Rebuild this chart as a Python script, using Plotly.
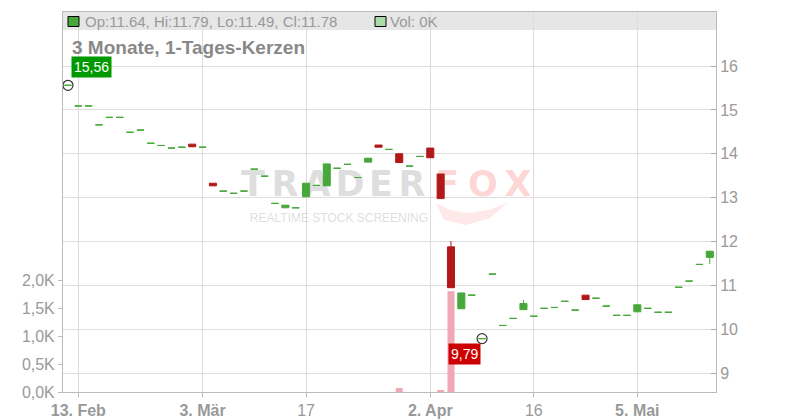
import plotly.graph_objects as go

# ---------------- data ----------------
dates = ["2025-02-12", "2025-02-13", "2025-02-14", "2025-02-17", "2025-02-18", "2025-02-19", "2025-02-20", "2025-02-21",
         "2025-02-24", "2025-02-25", "2025-02-26", "2025-02-27", "2025-02-28",
         "2025-03-03", "2025-03-04", "2025-03-05", "2025-03-06", "2025-03-07",
         "2025-03-10", "2025-03-11", "2025-03-12", "2025-03-13", "2025-03-14",
         "2025-03-17", "2025-03-18", "2025-03-19", "2025-03-20", "2025-03-21",
         "2025-03-24", "2025-03-25", "2025-03-26", "2025-03-27", "2025-03-28",
         "2025-03-31", "2025-04-01", "2025-04-02", "2025-04-03", "2025-04-04",
         "2025-04-07", "2025-04-08", "2025-04-09", "2025-04-10", "2025-04-11",
         "2025-04-14", "2025-04-15", "2025-04-16", "2025-04-17",
         "2025-04-22", "2025-04-23", "2025-04-24", "2025-04-25",
         "2025-04-28", "2025-04-29", "2025-04-30", "2025-05-02",
         "2025-05-05", "2025-05-06", "2025-05-07", "2025-05-08", "2025-05-09",
         "2025-05-12", "2025-05-13", "2025-05-14"]

opens = [15.56, 15.09, 15.09, 14.66, 14.83, 14.83, 14.49, 14.54, 14.24, 14.19,
         14.13, 14.15, 14.22, 14.15, 13.33, 13.15, 13.10, 13.15, 13.65, 13.49,
         12.87, 12.77, 12.77, 13.02, 13.28, 13.27, 13.67, 13.76, 13.46, 13.81,
         14.20, 14.10, 14.00, 13.72, 13.94, 14.13, 13.54, 11.88, 10.47, 10.78,
         9.79, 11.26, 10.09, 10.25, 10.45, 10.30, 10.48, 10.50, 10.64, 10.44,
         10.78, 10.71, 10.53, 10.32, 10.32, 10.40, 10.48, 10.39, 10.39, 10.96,
         11.10, 11.48, 11.64]

highs = [15.56, 15.09, 15.09, 14.66, 14.83, 14.83, 14.49, 14.54, 14.24, 14.19,
         14.13, 14.15, 14.22, 14.15, 13.33, 13.15, 13.10, 13.15, 13.65, 13.49,
         12.87, 12.83, 12.77, 13.33, 13.28, 13.77, 13.67, 13.76, 13.46, 13.90,
         14.20, 14.10, 14.00, 13.72, 13.94, 14.13, 13.54, 12.01, 10.83, 10.78,
         9.79, 11.26, 10.09, 10.25, 10.67, 10.30, 10.48, 10.50, 10.64, 10.44,
         10.78, 10.71, 10.53, 10.32, 10.32, 10.56, 10.48, 10.39, 10.39, 10.96,
         11.10, 11.48, 11.79]

lows = [15.56, 15.09, 15.09, 14.66, 14.83, 14.83, 14.49, 14.54, 14.24, 14.19,
        14.13, 14.15, 14.16, 14.15, 13.27, 13.15, 13.10, 13.15, 13.65, 13.49,
        12.87, 12.77, 12.77, 13.02, 13.28, 13.27, 13.67, 13.76, 13.46, 13.81,
        14.15, 14.10, 13.80, 13.72, 13.94, 13.91, 12.98, 10.95, 10.47, 10.78,
        9.79, 11.26, 10.09, 10.25, 10.45, 10.30, 10.48, 10.50, 10.64, 10.44,
        10.68, 10.71, 10.53, 10.32, 10.32, 10.40, 10.48, 10.39, 10.39, 10.96,
        11.10, 11.48, 11.49]

closes = [15.56, 15.09, 15.09, 14.66, 14.83, 14.83, 14.49, 14.54, 14.24, 14.19,
          14.13, 14.15, 14.16, 14.15, 13.27, 13.15, 13.10, 13.15, 13.65, 13.49,
          12.87, 12.83, 12.77, 13.33, 13.28, 13.77, 13.67, 13.76, 13.46, 13.90,
          14.15, 14.10, 13.80, 13.72, 13.94, 13.91, 12.98, 10.95, 10.83, 10.78,
          9.79, 11.26, 10.09, 10.25, 10.59, 10.30, 10.48, 10.50, 10.64, 10.44,
          10.68, 10.71, 10.53, 10.32, 10.32, 10.56, 10.48, 10.39, 10.39, 10.96,
          11.10, 11.48, 11.78]

volumes = [0, 0, 0, 0, 0, 0, 0, 0, 0, 0,
           0, 0, 0, 0, 0, 0, 0, 0, 0, 0,
           0, 0, 0, 0, 0, 0, 0, 0, 0, 0,
           0, 0, 70, 0, 0, 0, 20, 1800, 0, 0,
           0, 0, 0, 0, 0, 0, 0, 0, 0, 0,
           0, 0, 0, 0, 0, 0, 0, 0, 0, 0,
           0, 0, 0]

x_tick_dates = ["2025-02-13", "2025-03-03", "2025-03-17", "2025-04-02", "2025-04-16", "2025-05-05"]
x_tick_labels = ["<b>13. Feb</b>", "<b>3. Mär</b>", "17", "<b>2. Apr</b>", "16", "<b>5. Mai</b>"]
price_ticks = [9, 10, 11, 12, 13, 14, 15, 16]
vol_ticks = [0, 500, 1000, 1500, 2000]
vol_tick_labels = ["0,0K", "0,5K", "1,0K", "1,5K", "2,0K"]

title_text = "3 Monate, 1-Tages-Kerzen"

# ---------------- styling / layout helpers ----------------
OFF = 8                      # browser body margin
W, H = 800 - OFF, 420 - OFF  # figure size so that the page fits the window
PL, PR, PT, PB = 63, 716, 12, 392   # plot-area edges in window pixels
ML, MR, MT, MB = PL - OFF, 800 - PR, PT - OFF, 420 - PB
PW, PH = PR - PL, PB - PT
FONT = "Liberation Sans"
GREEN = "#46a83a"
RED = "#b31818"
VOL_RED = "#f0a8b4"
VOL_GREEN = "#acdcac"
GRID = "#dddddd"
AXIS = "#bbbbbb"
TXT = "#999999"


def px(x):
    return (x - PL) / PW


def py(y):
    return (PB - y) / PH


def de(v):
    return f"{v:.2f}".replace(".", ",")


fig = go.Figure()

# watermark (base subplot, drawn underneath everything)
wm_letters = ["T", "R", "A", "D", "E", "R", "F", "O", "X"]
wm_centers = [253, 285, 317, 350, 381, 412, 447, 483, 518]
wm_cols = ["rgba(160,160,160,0.36)"] * 6 + ["rgba(250,110,110,0.30)"] * 3
fig.add_trace(go.Scatter(
    x=[px(c) for c in wm_centers], y=[py(187)] * len(wm_letters),
    text=[f"<b>{t}</b>" for t in wm_letters],
    mode="text", textposition="middle center",
    textfont=dict(family="DejaVu Sans", size=35, color=wm_cols),
    xaxis="x", yaxis="y", hoverinfo="skip", showlegend=False))
fig.add_trace(go.Scatter(
    x=[px(339)], y=[py(219)], text=["REALTIME STOCK SCREENING"],
    mode="text", textposition="middle center",
    textfont=dict(family=FONT, size=12, color="rgba(160,160,160,0.36)"),
    xaxis="x", yaxis="y", hoverinfo="skip", showlegend=False))

# volume bars
vol_colors = [VOL_RED if c < o else VOL_GREEN for o, c in zip(opens, closes)]
fig.add_trace(go.Bar(x=dates, y=volumes, marker=dict(color=vol_colors, line=dict(width=0)),
                     width=0.68, xaxis="x2", yaxis="y2", hoverinfo="skip", showlegend=False))

# candles, split by colour
for col, pick in ((GREEN, lambda o, c: c >= o), (RED, lambda o, c: c < o)):
    idx = [i for i in range(len(dates)) if pick(opens[i], closes[i])]
    style = dict(line=dict(color=col, width=1), fillcolor=col)
    fig.add_trace(go.Candlestick(
        x=[dates[i] for i in idx], open=[opens[i] for i in idx], high=[highs[i] for i in idx],
        low=[lows[i] for i in idx], close=[closes[i] for i in idx],
        increasing=style, decreasing=style, whiskerwidth=0,
        xaxis="x2", yaxis="y3", hoverinfo="skip", showlegend=False))

# extreme markers
imax = max(range(len(highs)), key=lambda i: highs[i])
imin = min(range(len(lows)), key=lambda i: lows[i])
fig.add_trace(go.Scatter(
    x=[dates[imax], dates[imin]], y=[highs[imax], lows[imin]], mode="markers",
    marker=dict(symbol="circle-open", size=10, color="#333333", line=dict(width=1.2)),
    xaxis="x2", yaxis="y3", hoverinfo="skip", showlegend=False))

# fox-tail swoosh of the watermark
tail = [(436, 203), (444, 220), (466, 225), (490, 218), (507, 203), (489, 210), (467, 213), (450, 210)]
tail_path = "M " + " L ".join(f"{px(a):.4f},{py(b):.4f}" for a, b in tail) + " Z"

shapes = [
    dict(type="rect", xref="paper", yref="paper", x0=0, x1=1, y0=py(30), y1=1,
         fillcolor="#e6e6e6", line=dict(width=0), layer="below"),
    dict(type="path", xref="paper", yref="paper", path=tail_path,
         fillcolor="rgba(250,110,110,0.16)", line=dict(width=0), layer="below"),
    dict(type="rect", xref="paper", yref="paper", x0=px(68), x1=px(79), y0=py(26.5), y1=py(16.5),
         fillcolor=GREEN, line=dict(color="#000000", width=1), layer="above"),
    dict(type="rect", xref="paper", yref="paper", x0=px(375), x1=px(386), y0=py(26.5), y1=py(16.5),
         fillcolor=VOL_GREEN, line=dict(color="#000000", width=1), layer="above"),
]

annotations = [
    dict(xref="paper", yref="paper", x=px(83), y=py(21.5), xanchor="left", yanchor="middle",
         text=f"Op:{opens[-1]:.2f}, Hi:{highs[-1]:.2f}, Lo:{lows[-1]:.2f}, Cl:{closes[-1]:.2f}",
         showarrow=False, font=dict(family=FONT, size=15, color=TXT)),
    dict(xref="paper", yref="paper", x=px(388), y=py(21.5), xanchor="left", yanchor="middle",
         text=f"Vol: {volumes[-1] / 1000:.0f}K", showarrow=False, font=dict(family=FONT, size=15, color=TXT)),
    dict(xref="paper", yref="paper", x=px(70), y=py(47.5), xanchor="left", yanchor="middle",
         text=f"<b>{title_text}</b>", showarrow=False, font=dict(family=FONT, size=19, color="#888888")),
    dict(xref="x2", yref="y3", x=dates[imax], y=highs[imax], xanchor="left", yanchor="bottom",
         xshift=3, yshift=7, text=de(highs[imax]), showarrow=False, bgcolor="#009a00",
         borderpad=2, font=dict(family=FONT, size=14, color="#ffffff")),
    dict(xref="x2", yref="y3", x=dates[imin], y=lows[imin], xanchor="right", yanchor="top",
         xshift=-1, yshift=-4, text=de(lows[imin]), showarrow=False, bgcolor="#cc0000",
         borderpad=2, font=dict(family=FONT, size=14, color="#ffffff")),
]

tickfont = dict(family=FONT, size=16, color=TXT)

fig.update_layout(
    width=W, height=H, margin=dict(l=ML, r=MR, t=MT, b=MB, autoexpand=False),
    paper_bgcolor="white", plot_bgcolor="white",
    font=dict(family=FONT, color=TXT),
    showlegend=False, hovermode=False,
    boxgap=0.32, boxgroupgap=0,
    shapes=shapes, annotations=annotations,
    xaxis=dict(domain=[0, 1], range=[0, 1], visible=False, fixedrange=True, automargin=False),
    yaxis=dict(domain=[0, 1], range=[0, 1], visible=False, fixedrange=True, automargin=False),
    xaxis2=dict(overlaying="x", type="category", categoryorder="array", categoryarray=dates,
                range=[-0.48, 62.6], tickmode="array", tickvals=x_tick_dates, ticktext=x_tick_labels,
                showgrid=True, gridcolor=GRID, gridwidth=1, zeroline=False,
                ticks="outside", ticklen=4, tickcolor=AXIS,
                showline=True, linecolor=AXIS, linewidth=1, mirror=True, automargin=False,
                tickfont=tickfont, rangeslider=dict(visible=False), fixedrange=True),
    yaxis2=dict(overlaying="y", side="left", range=[0, 6786], tickmode="array",
                tickvals=vol_ticks, ticktext=vol_tick_labels, showgrid=False, zeroline=False,
                ticks="outside", ticklen=4, tickcolor=AXIS, automargin=False,
                showline=True, linecolor=AXIS, linewidth=1, tickfont=tickfont, fixedrange=True),
    yaxis3=dict(overlaying="y", side="right", range=[8.574, 17.23], tickmode="array",
                tickvals=price_ticks, ticktext=[str(t) for t in price_ticks],
                showgrid=True, gridcolor=GRID, gridwidth=1, zeroline=False,
                ticks="inside", ticklen=5, tickcolor="#aaaaaa", automargin=False,
                showline=True, linecolor=AXIS, linewidth=1, tickfont=tickfont, fixedrange=True),
)

fig.write_html("out.html")
